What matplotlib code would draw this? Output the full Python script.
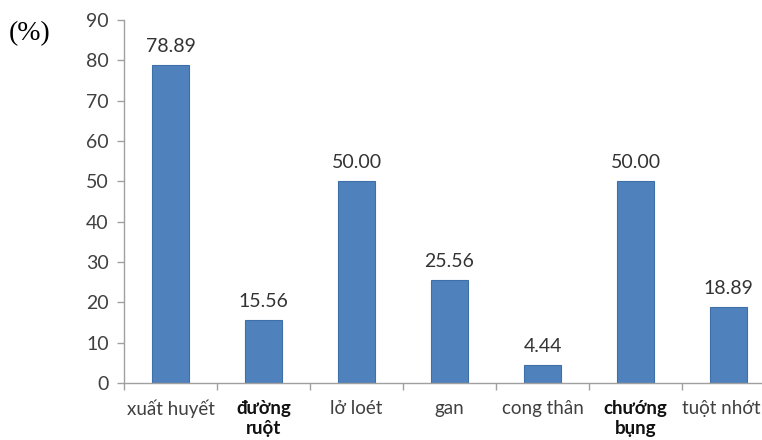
import matplotlib.pyplot as plt
import numpy as np

categories = ["xuất huyết", "đường\nruột", "lở loét", "gan", "cong thân", "chướng\nbụng", "tuột nhớt"]
values = [78.89, 15.56, 50.00, 25.56, 4.44, 50.00, 18.89]
bold_labels = [False, True, False, False, False, True, False]
yticks = list(range(0, 100, 10))

plt.rcParams['font.family'] = ['Lato', 'DejaVu Sans']

fig = plt.figure(figsize=(7.62, 4.40), dpi=100)
# axis spans past the right edge like the reference crop
ax = fig.add_axes([124 / 762, 1 - 383 / 440, 651 / 762, (383 - 20) / 440])

x = np.arange(len(categories))
ax.bar(x, values, width=0.39, color='#4F81BD', edgecolor='#3F6FA8', linewidth=0.8, zorder=2)

for xi, v in zip(x, values):
    ax.text(xi, v + 2.5, f"{v:.2f}", ha='center', va='bottom', fontsize=14, color='#333333')

ax.set_xlim(-0.5, len(categories) - 0.5)
ax.set_ylim(0, 90)
ax.set_yticks(yticks)
ax.set_yticklabels([str(t) for t in yticks], fontsize=14, color='#404040')

ax.set_xticks(np.arange(-0.5, len(categories), 1.0))
ax.set_xticklabels([])
ax.tick_params(axis='x', which='major', length=5, color='#A0A0A0', width=1)
ax.tick_params(axis='y', length=5, color='#A0A0A0', width=1, pad=6)

# category labels under the bars; the last one is pulled left a little
last = len(categories) - 1
for xi, name, b in zip(x, categories, bold_labels):
    dx = -5 if xi == last else 0
    ax.annotate(name, xy=(xi, 0), xycoords=('data', 'axes fraction'),
                xytext=(dx, -12), textcoords='offset points',
                ha='center', va='top', fontsize=13.5, linespacing=1.25,
                fontweight='bold' if b else 'normal',
                color='#111111' if b else '#404040', annotation_clip=False)

for s in ['top', 'right']:
    ax.spines[s].set_visible(False)
for s in ['left', 'bottom']:
    ax.spines[s].set_color('#A0A0A0')
    ax.spines[s].set_linewidth(1)

fig.text(9 / 762, 1 - 34 / 440, "(%)", fontsize=20, family='Liberation Serif',
         ha='left', va='center', color='black')

fig.savefig('out.png', dpi=100)
